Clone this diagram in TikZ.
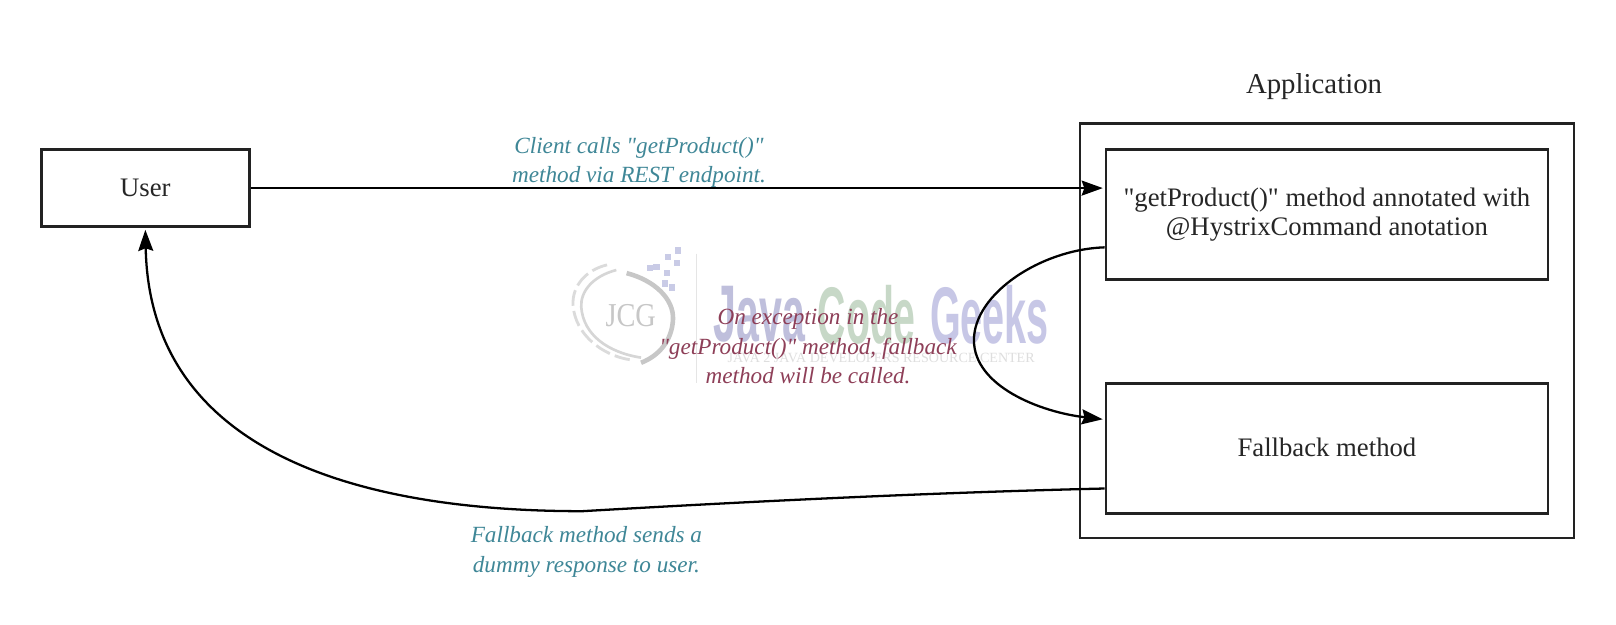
\documentclass[tikz,border=0pt]{standalone}
\usepackage{fontspec}
\newfontfamily\seriff{Liberation Serif}
\newfontfamily\wmfont{Liberation Sans}
\usetikzlibrary{arrows.meta}
\definecolor{tealtxt}{HTML}{3F8797}
\definecolor{redtxt}{HTML}{8E3F58}
\definecolor{inkline}{HTML}{222222}
\definecolor{dotblue}{HTML}{C9CBE6}
\tikzset{
  pic unit/.style={x=0.020612cm,y=-0.020612cm},
  boxn/.style={draw=inkline,line width=1.5pt,fill=white,inner sep=0pt,align=center,text=black!85,font=\seriff\fontsize{15.2}{16.4}\selectfont},
  outerbox/.style={draw=inkline,line width=1.4pt,inner sep=0pt},
  flow/.style={draw=black,line width=1.3pt,-{Stealth[length=12pt,width=8.5pt,inset=1.5pt]},shorten >=1pt},
  lab/.style={align=center,inner sep=0pt,font=\seriff\fontsize{13.2}{16.8}\selectfont\itshape},
  wm/.style={inner sep=0pt,font=\wmfont\bfseries\fontsize{36}{36}\selectfont,anchor=center,yscale=1.27},
  wmsmall/.style={inner sep=0pt,text=black!13,font=\seriff\fontsize{8}{8}\selectfont},
}
\begin{document}
\begin{tikzpicture}[pic unit]
\useasboundingbox (0,0) rectangle (1568,605.5);
\fill[white] (0,0) rectangle (1568,605.5);
% watermark
\draw[black!14,line width=1.6pt,dash pattern=on 9pt off 3pt] (589,257) .. controls (568,262) and (555,278) .. (556,296) .. controls (558,325) and (585,345) .. (611,349);
\draw[black!16,line width=1.5pt] (598,262) .. controls (575,268) and (563,283) .. (564,298) .. controls (566,325) and (590,342) .. (622,347);
\draw[black!22,line width=2.6pt] (608,265) .. controls (635,272) and (654,290) .. (653,310) .. controls (652,330) and (640,345) .. (622,352);
\foreach \a/\b in {648/249,657/255,637/259,647/265,645/275,652/279,658/243,631/260}
  \fill[dotblue] (\a-3,\b-3) rectangle (\a+3,\b+3);
\draw[black!10,line width=0.8pt] (676,246) -- (676,372);
\node[inner sep=0pt,text=black!22,font=\seriff\fontsize{19}{19}\selectfont,xscale=0.85] (wmjcg) at (612,306) {JCG};
\node[wm,text=blue!45!black!25,xscale=0.65] (wmj) at (737,305) {Java};
\node[wm,text=green!30!black!22,xscale=0.62] (wmc) at (841,305) {Code};
\node[wm,text=blue!55!black!22,xscale=0.625] (wmg) at (960,305) {Geeks};
\node[wmsmall] (wmt) at (855,347) {JAVA 2 JAVA DEVELOPERS RESOURCE CENTER};
% boxes
\node[outerbox,minimum width=9.875cm,minimum height=8.287cm] (app) at (1287.5,321) {};
\node[boxn,minimum width=4.164cm,minimum height=1.546cm] (user) at (141,182.5) {\raisebox{-1.8pt}{User}};
\node[boxn,minimum width=8.843cm,minimum height=2.597cm] (method) at (1287.5,208) {\raisebox{-2.2pt}{"getProduct()" method annotated with}\\\raisebox{-2.2pt}{@HystrixCommand anotation}};
\node[boxn,minimum width=8.843cm,minimum height=2.597cm] (fallback) at (1287.5,435) {\raisebox{1pt}{Fallback method}};
\node[inner sep=0pt,text=black!85,font=\seriff\fontsize{16.4}{18}\selectfont] (apptitle) at (1275,84) {Application};
% connector anchors
\coordinate (m1) at ([yshift=-32*0.020612cm]method.west);
\coordinate (f1) at ([yshift=28*0.020612cm]fallback.west);
\coordinate (f2) at ([yshift=-39*0.020612cm]fallback.west);
\coordinate (m2) at (method.west |- user.east);
\coordinate (bend) at (565,496);
\coordinate (side) at (945,330);
% connectors
\draw[flow] (user.east) -- (m2);
\draw[flow] (m1) .. controls (1010,242) and (945,285) .. (side) .. controls (945,375) and (1010,400) .. (f1);
\draw[flow] (f2) .. controls (900,478) and (720,487) .. (bend) .. controls (330,496) and (145,430) .. (user.south);
% labels
\node[lab,text=tealtxt] (l1) at (620,157.5) {Client calls "getProduct()"\\method via REST endpoint.};
\node[lab,text=redtxt] (l2) at (784,336) {On exception in the\\"getProduct()" method, fallback\\method will be called.};
\node[lab,text=tealtxt] (l3) at (569,535.5) {Fallback method sends a\\dummy response to user.};
\end{tikzpicture}
\end{document}
